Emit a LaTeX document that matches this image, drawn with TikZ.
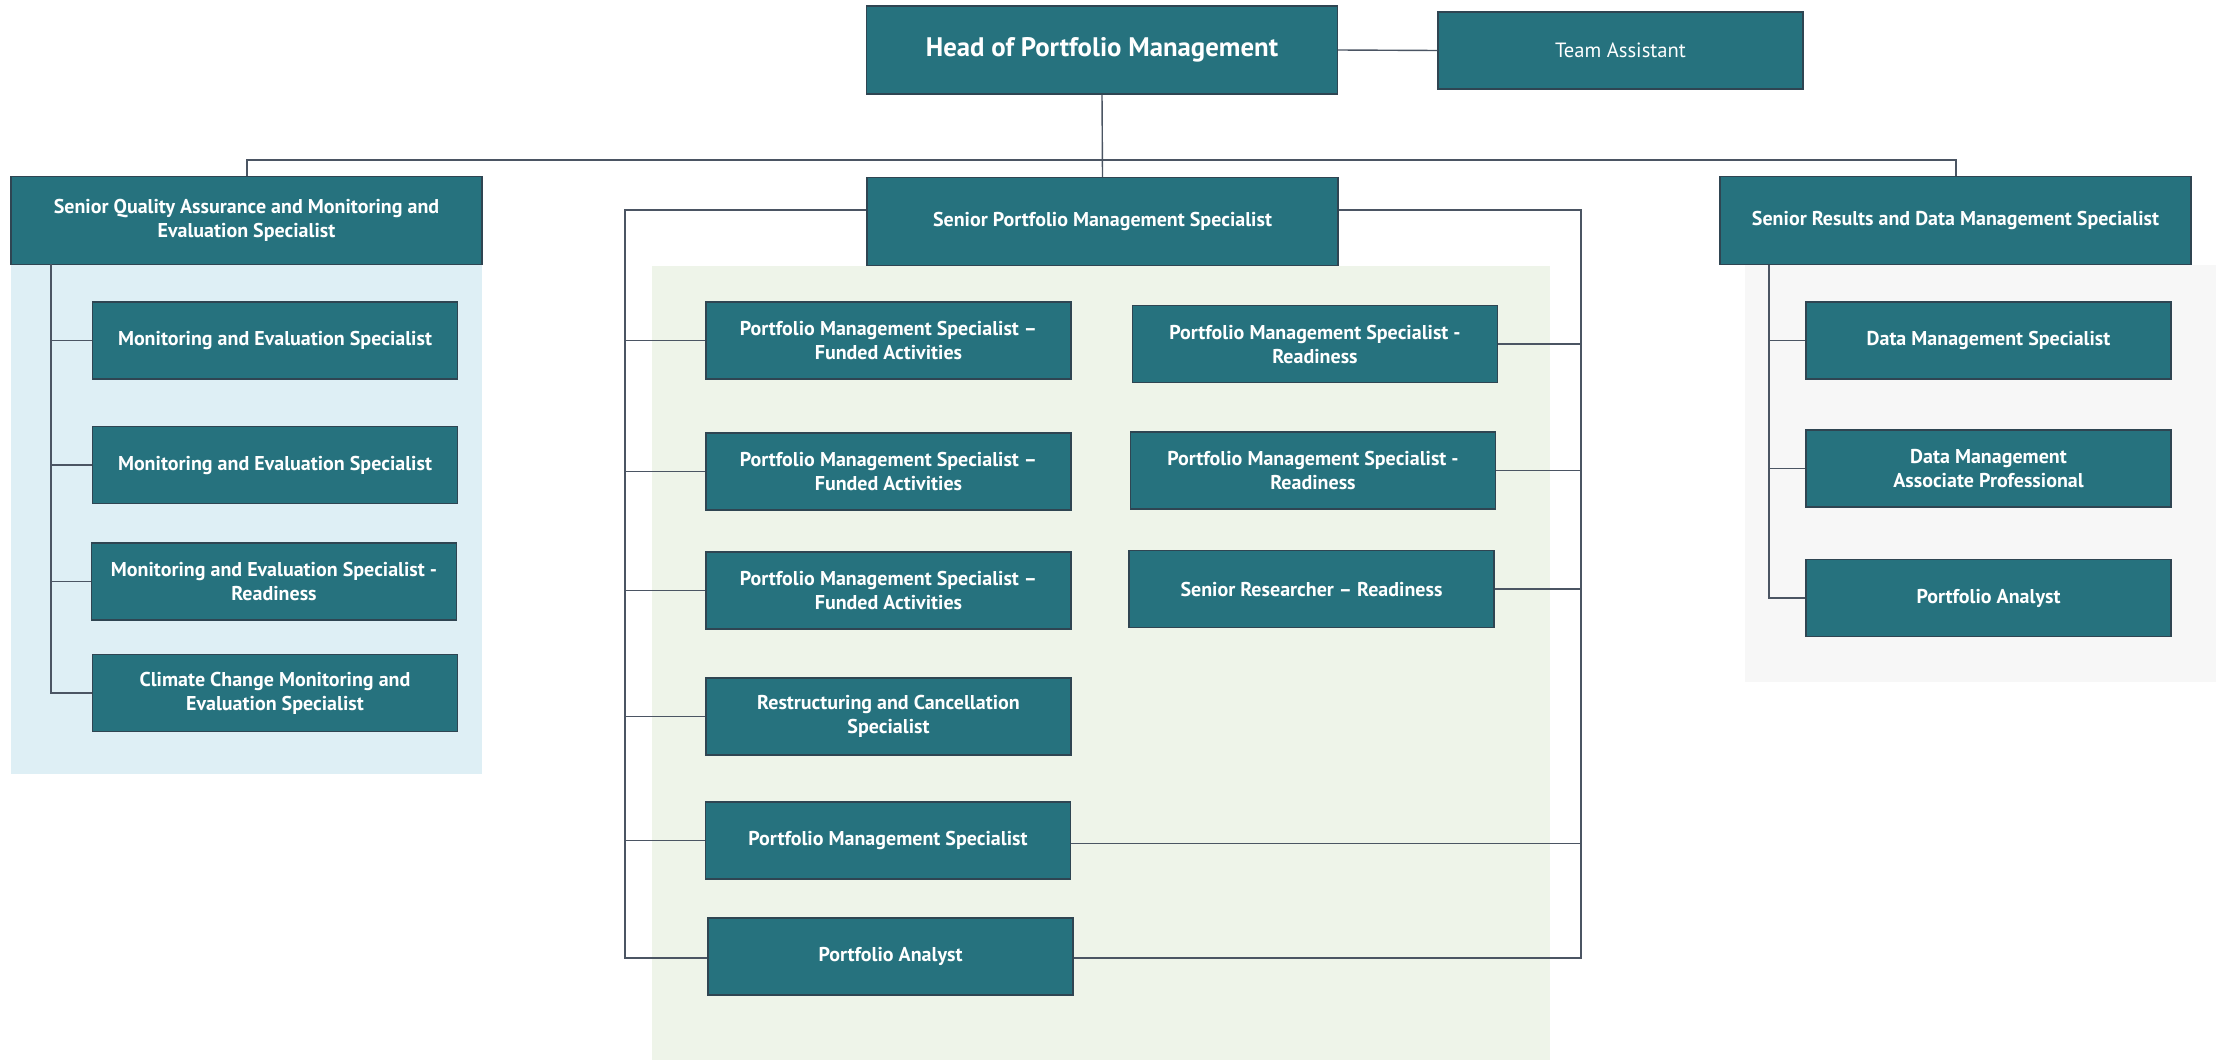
\documentclass[tikz,border=0pt]{standalone}
\usepackage{fontspec}
\setmainfont{PT Sans}
\definecolor{boxfill}{HTML}{26727E}
\definecolor{boxdraw}{HTML}{2F4552}
\definecolor{linec}{HTML}{4B5563}
\definecolor{bluebg}{HTML}{DEEFF5}
\definecolor{greenbg}{HTML}{EEF4E9}
\definecolor{greybg}{HTML}{F7F7F7}
\tikzset{
  box/.style={rectangle, fill=boxfill, draw=boxdraw, line width=0.6pt, text=white,
    font=\bfseries\fontsize{10}{12}\selectfont, align=center, inner sep=0pt},
  wbox/.style={box, minimum width=182.5pt, minimum height=38.5pt},
  bigbox/.style={box, minimum width=235.5pt, minimum height=44pt},
  conn/.style={draw=linec, line width=0.7pt},
}
\begin{document}
\begin{tikzpicture}[x=0.5pt,y=-0.5pt]
\useasboundingbox (0,0) rectangle (2223,1060);
% backgrounds
\fill[bluebg] (11,264) rectangle (482,774);
\fill[greenbg] (652,266) rectangle (1550,1060);
\fill[greybg] (1745,265) rectangle (2216,682);

% top level
\node[bigbox, font=\bfseries\fontsize{13.4}{16}\selectfont] (head) at (1102,50) {Head of Portfolio Management};
\node[box, minimum width=182.5pt, minimum height=38.5pt, font=\fontsize{10.3}{12}\selectfont] (ta) at (1620.5,50.5) {Team Assistant};

\node[bigbox] (sqa) at (246.5,220.5) {Senior Quality Assurance and Monitoring and\\Evaluation Specialist};
\node[bigbox] (spms) at (1102.5,221.5) {Senior Portfolio Management Specialist};
\node[bigbox] (srdms) at (1955.5,220.5) {Senior Results and Data Management Specialist};

% left group
\node[wbox] (me1) at (275,340.5) {Monitoring and Evaluation Specialist};
\node[wbox] (me2) at (275,465) {Monitoring and Evaluation Specialist};
\node[wbox] (me3) at (274,581.5) {Monitoring and Evaluation Specialist -\\Readiness};
\node[wbox] (me4) at (275,693) {Climate Change Monitoring and\\Evaluation Specialist};

% middle group
\node[wbox] (fa1) at (888.5,340.5) {Portfolio Management Specialist --\\Funded Activities};
\node[wbox] (fa2) at (888.5,471.5) {Portfolio Management Specialist --\\Funded Activities};
\node[wbox] (fa3) at (888.5,590.5) {Portfolio Management Specialist --\\Funded Activities};
\node[wbox] (rc) at (888.5,716.5) {Restructuring and Cancellation\\Specialist};
\node[wbox] (pms) at (888,840.5) {Portfolio Management Specialist};
\node[wbox] (pa) at (890.5,956.5) {Portfolio Analyst};
\node[wbox] (r1) at (1315,344) {Portfolio Management Specialist -\\Readiness};
\node[wbox] (r2) at (1313,470.5) {Portfolio Management Specialist -\\Readiness};
\node[wbox] (sr) at (1311.5,589) {Senior Researcher -- Readiness};

% right group
\node[wbox] (dms) at (1988.5,340.5) {Data Management Specialist};
\node[wbox] (dmap) at (1988.5,468.5) {Data Management\\Associate Professional};
\node[wbox] (pa2) at (1988.5,598) {Portfolio Analyst};

% connectors: top
\draw[conn] (head.east) -- (ta.west);
\draw[conn] (head.south) -- (spms.north);
\coordinate (busL) at (247,160);
\coordinate (busR) at (1956,160);
\draw[conn] (sqa.north -| busL) -- (busL) -- (busR) -- (srdms.north -| busR);

% left group connectors
\coordinate (lt) at (51,264);
\draw[conn] (lt) |- (me4.west);
\foreach \n in {me1,me2,me3} \draw[conn] (lt |- \n.west) -- (\n.west);

% middle group connectors
\coordinate (mlt) at (625,210);
\coordinate (mrt) at (1581,210);
\coordinate (mlb) at (625,958);
\coordinate (mrb) at (1581,958);
\draw[conn] (spms.west |- mlt) -- (mlt) -- (mlb) -- (pa.west |- mlb);
\draw[conn] (spms.east |- mrt) -- (mrt) -- (mrb) -- (pa.east |- mrb);
\foreach \n in {fa1,fa2,fa3,rc,pms} \draw[conn] (mlt |- \n.west) -- (\n.west);
\foreach \n in {r1,r2,sr} \draw[conn] (\n.east) -- (mrt |- \n.east);
\coordinate (pmsE) at ([yshift=-1.5pt]pms.east);
\draw[conn] (pmsE) -- (mrt |- pmsE);

% right group connectors
\coordinate (rt) at (1769,265);
\draw[conn] (rt) |- (pa2.west);
\foreach \n in {dms,dmap} \draw[conn] (rt |- \n.west) -- (\n.west);
\end{tikzpicture}
\end{document}
